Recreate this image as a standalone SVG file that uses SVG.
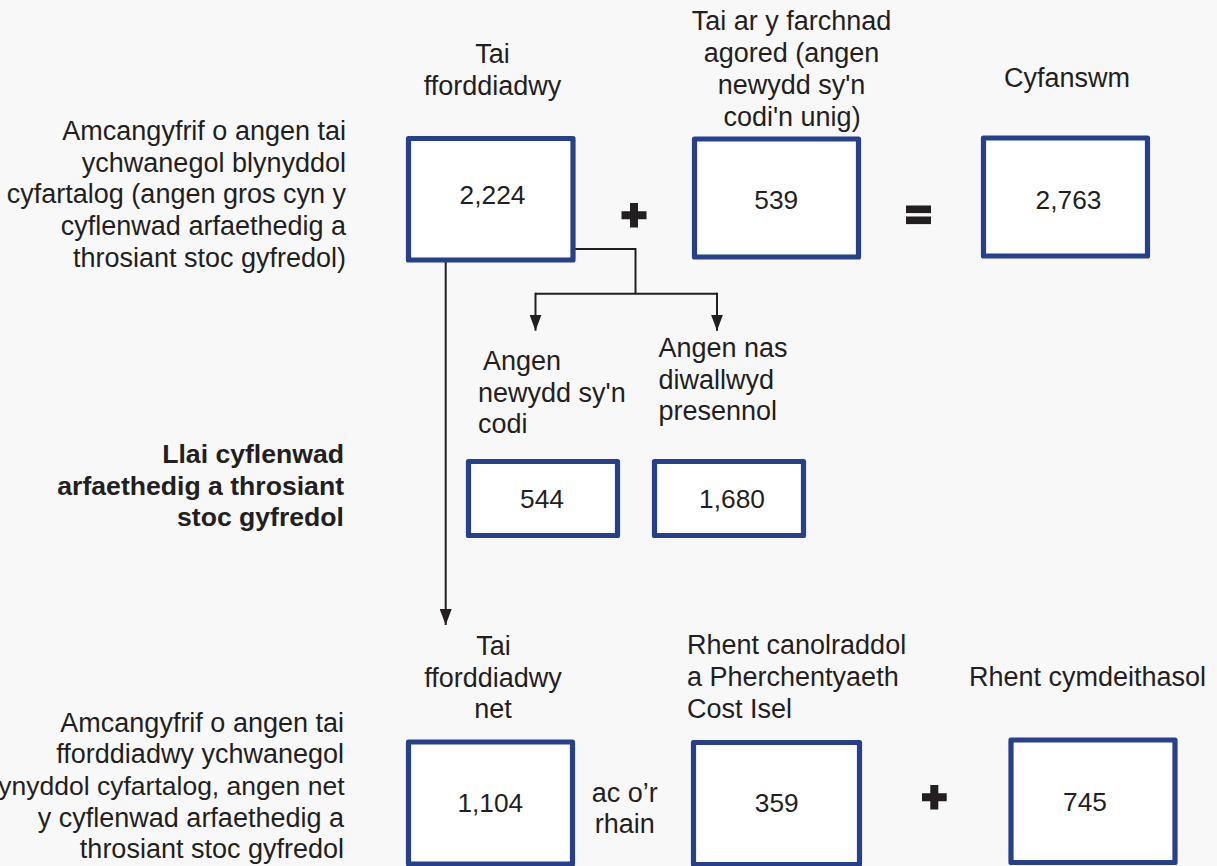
<svg xmlns="http://www.w3.org/2000/svg" width="1217" height="866" viewBox="0 0 1217 866">
<defs>
<style>
.lbl{font-family:"Liberation Sans",Arial,sans-serif;font-size:27px;fill:#231f20}
.num{font-family:"Liberation Sans",Arial,sans-serif;font-size:26.3px;fill:#231f20;text-anchor:middle}
.mid{text-anchor:middle}
.end{text-anchor:end}
.bold{font-weight:bold;font-size:26.6px}
.fit{font-size:26.5px}
.box{fill:#ffffff;stroke:#27408b;stroke-width:5.2;stroke-linejoin:round}
.ln{fill:none;stroke:#231f20;stroke-width:2}
.sym{fill:#231f20}
</style>
<marker id="arr" viewBox="0 0 16 12" refX="16" refY="6" markerWidth="16" markerHeight="12" markerUnits="userSpaceOnUse" orient="auto">
<path d="M0,0 L16,6 L0,12 Z" fill="#231f20"/>
</marker>
</defs>
<rect x="0" y="0" width="1217" height="866" fill="#f8f8f8"/>

<g id="desc-top">
<text class="lbl end" x="346" y="140">Amcangyfrif o angen tai</text>
<text class="lbl end" x="346" y="171.7">ychwanegol blynyddol</text>
<text class="lbl end" x="346" y="203.3">cyfartalog (angen gros cyn y</text>
<text class="lbl end" x="346" y="235">cyflenwad arfaethedig a</text>
<text class="lbl end" x="346" y="266.7">throsiant stoc gyfredol)</text>
</g>

<g id="desc-mid">
<text class="lbl end bold" x="344" y="463">Llai cyflenwad</text>
<text class="lbl end bold" x="344" y="494.5">arfaethedig a throsiant</text>
<text class="lbl end bold" x="344" y="526">stoc gyfredol</text>
</g>

<g id="desc-bottom">
<text class="lbl end" x="344" y="731.7">Amcangyfrif o angen tai</text>
<text class="lbl end" x="344" y="763.3">fforddiadwy ychwanegol</text>
<text class="lbl end fit" x="344.5" y="795">ynyddol cyfartalog, angen net</text>
<text class="lbl end" x="344" y="826.5">y cyflenwad arfaethedig a</text>
<text class="lbl end" x="344" y="858.3">throsiant stoc gyfredol</text>
</g>

<g id="connectors">
<path class="ln" d="M445.7,262 L445.7,625" marker-end="url(#arr)"/>
<path class="ln" d="M575,249 L635.5,249 L635.5,293.7"/>
<path class="ln" d="M535.5,293.7 L717,293.7"/>
<path class="ln" d="M535.5,292.7 L535.5,330.7" marker-end="url(#arr)"/>
<path class="ln" d="M717,292.7 L717,330.7" marker-end="url(#arr)"/>
</g>

<g id="node-affordable">
<text class="lbl mid" x="492.5" y="63.3">Tai</text>
<text class="lbl mid" x="492.5" y="95">fforddiadwy</text>
<rect class="box" x="408.5" y="138.5" width="164.5" height="121.5"/>
<text class="num" x="492.5" y="204">2,224</text>
</g>

<g id="plus-top">
<path class="sym" d="M630,203 h8 v8.2 h8.5 v8 h-8.5 v8.3 h-8 v-8.3 h-8.5 v-8 h8.5 Z"/>
</g>

<g id="node-market">
<text class="lbl mid" x="791.5" y="29.5">Tai ar y farchnad</text>
<text class="lbl mid" x="791.5" y="61.5">agored (angen</text>
<text class="lbl mid" x="791.5" y="93.5">newydd sy'n</text>
<text class="lbl mid" x="792" y="125.5">codi'n unig)</text>
<rect class="box" x="694.5" y="139" width="164" height="118"/>
<text class="num" x="776.3" y="209.3">539</text>
</g>

<g id="equals">
<rect class="sym" x="906" y="205.5" width="25" height="7.6"/>
<rect class="sym" x="906" y="216.5" width="25" height="7.6"/>
</g>

<g id="node-total">
<text class="lbl mid" x="1067" y="87.3">Cyfanswm</text>
<rect class="box" x="983.5" y="138" width="164" height="118"/>
<text class="num" x="1068.5" y="208.7">2,763</text>
</g>

<g id="node-newneed">
<text class="lbl" x="483" y="370">Angen</text>
<text class="lbl" x="478" y="402">newydd sy'n</text>
<text class="lbl" x="478" y="432.7">codi</text>
<rect class="box" x="468.5" y="461.5" width="149" height="74"/>
<text class="num" x="542" y="507.5">544</text>
</g>

<g id="node-unmet">
<text class="lbl" x="658.5" y="357">Angen nas</text>
<text class="lbl" x="658.5" y="388.5">diwallwyd</text>
<text class="lbl" x="658.5" y="420">presennol</text>
<rect class="box" x="654.5" y="461.5" width="149" height="74"/>
<text class="num" x="732" y="507.5">1,680</text>
</g>

<g id="node-net">
<text class="lbl mid" x="493.5" y="655">Tai</text>
<text class="lbl mid" x="493" y="686.7">fforddiadwy</text>
<text class="lbl mid" x="493" y="718">net</text>
<rect class="box" x="408.5" y="742" width="164" height="122"/>
<text class="num" x="490.3" y="811.7">1,104</text>
</g>

<g id="label-ac">
<text class="lbl mid" x="624.7" y="801.7">ac o’r</text>
<text class="lbl mid" x="624.7" y="832.7">rhain</text>
</g>

<g id="node-intermediate">
<text class="lbl" x="687" y="653.5">Rhent canolraddol</text>
<text class="lbl" x="687" y="685.5">a Pherchentyaeth</text>
<text class="lbl" x="687" y="717.8">Cost Isel</text>
<rect class="box" x="693.5" y="742.5" width="166" height="122"/>
<text class="num" x="776.8" y="812">359</text>
</g>

<g id="plus-bottom">
<path class="sym" d="M930.3,785 h8 v8.2 h8.4 v8 h-8.4 v8.3 h-8 v-8.3 h-8.3 v-8 h8.3 Z"/>
</g>

<g id="node-social">
<text class="lbl mid" x="1087.5" y="686">Rhent cymdeithasol</text>
<rect class="box" x="1011" y="740" width="164" height="122.5"/>
<text class="num" x="1085" y="811">745</text>
</g>
</svg>
